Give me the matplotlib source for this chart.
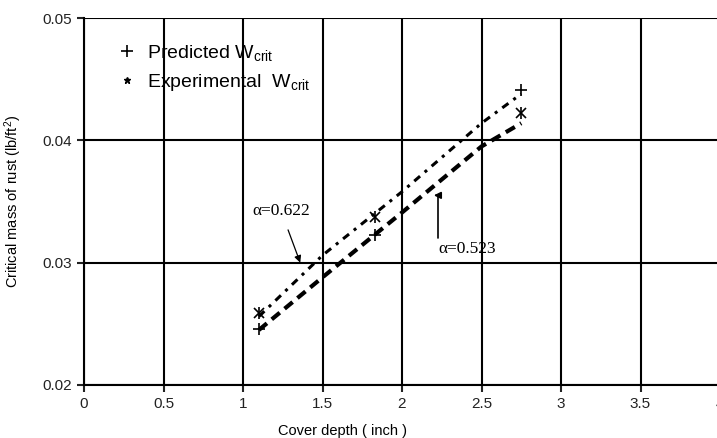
import matplotlib
matplotlib.use("Agg")
import matplotlib.pyplot as plt
from matplotlib.lines import Line2D

plt.rcParams['font.family'] = ['Liberation Sans', 'DejaVu Sans']
plt.rcParams['mathtext.fontset'] = 'custom'
plt.rcParams['mathtext.rm'] = 'Liberation Sans'
plt.rcParams['mathtext.it'] = 'Liberation Sans:italic'

# measured points
cover = [1.1, 1.83, 2.75]
w_pred = [0.0246, 0.0323, 0.0441]
w_exp = [0.0259, 0.0337, 0.0422]

# fitted curves for the two alpha values
fit_x = [1.1, 1.5, 2.0, 2.5, 2.75]
fit_a622 = [0.0256, 0.0306, 0.0358, 0.0414, 0.0438]
fit_a523 = [0.0245, 0.0288, 0.0341, 0.0395, 0.0414]

fig = plt.figure(figsize=(7.17, 4.38), dpi=100)
ax = fig.add_axes([84/717, 1-385/438, 636/717, 367/438])

ax.plot(fit_x, fit_a622, color='k', lw=2.2, ls=(0, (2.5, 2, 1, 2)))
ax.plot(fit_x, fit_a523, color='k', lw=3.0, ls=(0, (2.5, 1.5)))
ax.plot(cover, w_pred, 'k+', ms=8, mew=1.2, ls='none')
ax.plot(cover, w_exp, 'kx', ms=7, mew=1.2, ls='none')
ax.plot(cover, w_exp, 'k|', ms=9, mew=1.2, ls='none')

ax.set_xlim(0, 4)
ax.set_ylim(0.02, 0.05)
ax.set_xticks([0, 0.5, 1, 1.5, 2, 2.5, 3, 3.5, 4])
ax.set_xticklabels(['0', '0.5', '1', '1.5', '2', '2.5', '3', '3.5', '4'])
ax.set_yticks([0.02, 0.03, 0.04, 0.05])
ax.set_yticklabels(['0.02', '0.03', '0.04', '0.05'])
ax.grid(True, color='k', lw=1.5)
ax.tick_params(direction='out', length=5, width=1.5, labelsize=11, colors='#222222')
for s in ['top', 'right']:
    ax.spines[s].set_visible(False)
for s in ['left', 'bottom']:
    ax.spines[s].set_linewidth(1.5)

ax.set_xlabel('Cover depth ( inch )', fontsize=10.5)
ax.xaxis.set_label_coords((342-84)/636, -0.105)
ax.set_ylabel('Critical mass of rust (lb/ft$^2$)', fontsize=10.5)
ax.yaxis.set_label_coords(-0.095, 0.5)

handles = [Line2D([], [], color='k', marker='+', ls='none', ms=8, mew=1.2),
           Line2D([], [], color='k', marker='*', ls='none', ms=5)]
ax.legend(handles, ['Predicted W$_{\\mathrm{crit}}$', 'Experimental  W$_{\\mathrm{crit}}$'],
          loc='upper left', bbox_to_anchor=(0.025, 0.98), frameon=False,
          fontsize=14, handlelength=1.0, handletextpad=0.5, labelspacing=0.45)

ax.annotate('α=0.622', xy=(1.36, 0.0300), xytext=(1.24, 0.0342),
            fontsize=12.5, family='Liberation Serif', ha='center', va='center',
            arrowprops=dict(arrowstyle='-|>', color='k', lw=0.9, mutation_scale=10,
                            shrinkA=6, shrinkB=0))
ax.annotate('α=0.523', xy=(2.2, 0.0355), xytext=(2.41, 0.0311),
            fontsize=12.5, family='Liberation Serif', ha='center', va='center',
            arrowprops=dict(arrowstyle='-|>', color='k', lw=1.2, mutation_scale=10,
                            shrinkA=0, shrinkB=0,
                            connectionstyle='angle,angleA=90,angleB=0,rad=0',
                            relpos=(0.0, 1.0)))

fig.savefig('out.png', dpi=100)
